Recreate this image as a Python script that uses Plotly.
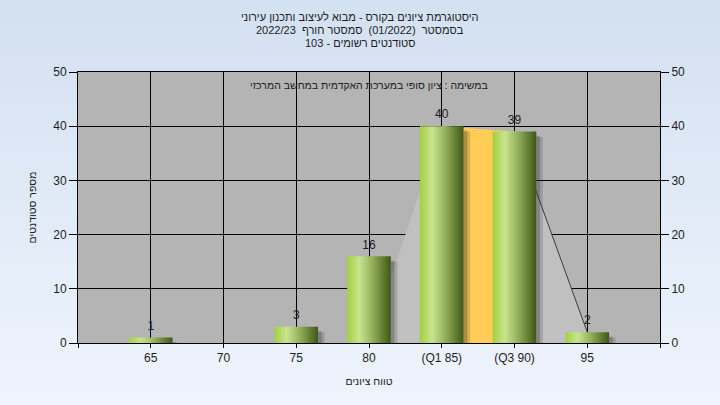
import plotly.graph_objects as go

# ---------------- data ----------------
categories = [65, 70, 75, 80, 85, 90, 95]
tick_labels = ["65", "70", "75", "80", "(Q1 85)", "(Q3 90)", "95"]
counts = [1, 0, 3, 16, 40, 39, 2]

quartile_x = [85, 90]          # Q1 .. Q3 band
quartile_y = [40, 39]

poly_x = [80, 85, 90, 95]      # light frequency-polygon area
poly_y = [0, 40, 39, 2]

title_lines = [
    "היסטוגרמת ציונים בקורס - מבוא לעיצוב ותכנון עירוני",
    "בסמסטר  (01/2022)  סמסטר חורף  2022/23",
    "סטודנטים רשומים - 103",
]
subtitle = "במשימה : ציון סופי במערכת האקדמית במחשב המרכזי"
x_title = "טווח ציונים"
y_title = "מספר סטודנטים"

x_range = [60, 100]
y_range = [0, 50]
bar_width = 3.0

FONT = "Arial, 'Liberation Sans', 'DejaVu Sans', sans-serif"
TXT = "#1c1c24"

fig = go.Figure()

# light area (frequency polygon)
fig.add_trace(go.Scatter(
    x=poly_x + [poly_x[-1]], y=poly_y + [0],
    fill="toself", fillcolor="#c0c0c0", mode="none",
    hoverinfo="skip", showlegend=False))
# dark edge line on the falling side
fig.add_trace(go.Scatter(
    x=poly_x[2:], y=poly_y[2:], mode="lines",
    line=dict(color="#3c3c3c", width=1),
    hoverinfo="skip", showlegend=False))

# orange quartile band
fig.add_trace(go.Scatter(
    x=[quartile_x[0], quartile_x[0], quartile_x[1], quartile_x[1]],
    y=[0, quartile_y[0], quartile_y[1], 0],
    fill="toself", fillcolor="#ffcc55", mode="none",
    hoverinfo="skip", showlegend=False))

half = bar_width / 2.0
# bar shadows (two soft layers)
for c, v in zip(categories, counts):
    if v <= 0:
        continue
    fig.add_trace(go.Scatter(
        x=[c + half, c + half, c + half + 0.45, c + half + 0.45],
        y=[-1.2, max(v - 1.0, 0.1), max(v - 1.0, 0.1), -1.2],
        fill="toself", fillcolor="rgba(40,40,40,0.18)", mode="none",
        hoverinfo="skip", showlegend=False))
    fig.add_trace(go.Scatter(
        x=[c + half, c + half, c + half + 0.25, c + half + 0.25],
        y=[-1, max(v - 0.8, 0.1), max(v - 0.8, 0.1), -1],
        fill="toself", fillcolor="rgba(40,40,40,0.25)", mode="none",
        hoverinfo="skip", showlegend=False))

# gradient bars
for c, v in zip(categories, counts):
    if v <= 0:
        continue
    fig.add_trace(go.Scatter(
        x=[c - half, c - half, c + half, c + half],
        y=[0, v, v, 0],
        fill="toself", mode="none",
        fillgradient=dict(
            type="horizontal",
            colorscale=[[0, "#a2d040"], [0.28, "#c8e48e"], [0.55, "#98b660"],
                        [0.85, "#5c772c"], [1, "#3e561c"]]),
        hoverinfo="skip", showlegend=False))

# value labels
lab_x = [c for c, v in zip(categories, counts) if v > 0]
lab_y = [v for v in counts if v > 0]
fig.add_trace(go.Scatter(
    x=lab_x, y=lab_y, mode="markers+text", text=[str(v) for v in lab_y],
    marker=dict(size=6, opacity=0),
    textposition="top center",
    textfont=dict(family=FONT, size=12, color=TXT),
    hoverinfo="skip", showlegend=False, cliponaxis=False))

# invisible trace for right axis
fig.add_trace(go.Scatter(x=[x_range[0]], y=[0], yaxis="y2", mode="markers",
                         marker=dict(opacity=0), hoverinfo="skip", showlegend=False))

# background gradient strips (paper)
top_rgb = (211, 224, 241)
bot_rgb = (239, 245, 253)
n = 27
shapes = []
for i in range(n):
    t = i / (n - 1)
    col = tuple(int(round(top_rgb[k] + (bot_rgb[k] - top_rgb[k]) * t)) for k in range(3))
    shapes.append(dict(type="rect", xref="paper", yref="paper",
                       x0=-0.2, x1=1.2,
                       y0=1.3 - (i + 1) * (1.6 / n) - 0.002, y1=1.3 - i * (1.6 / n),
                       fillcolor="rgb(%d,%d,%d)" % col, line=dict(width=0),
                       layer="below"))
# plot area gray
shapes.append(dict(type="rect", xref="x domain", yref="y domain",
                   x0=0, x1=1, y0=0, y1=1, fillcolor="#b4b4b4",
                   line=dict(width=0), layer="below"))

tickvals = [x_range[0]] + categories + [x_range[1]]
ticktext = [""] + tick_labels + [""]

annotations = []
for i, line in enumerate(title_lines):
    annotations.append(dict(text=line, xref="paper", yref="paper",
                            x=(360 - 78) / 582, y=1, yshift=55 - 13 * i,
                            xanchor="center", yanchor="middle",
                            showarrow=False, font=dict(size=11, color=TXT)))
annotations.append(dict(text=subtitle, xref="paper", yref="y", x=0.5, y=47.6,
                        xanchor="center", yanchor="middle", showarrow=False,
                        font=dict(size=10.5, color=TXT)))

fig.update_layout(
    width=720, height=405,
    margin=dict(l=78, r=60, t=72, b=62),
    paper_bgcolor="#e2ebf7",
    plot_bgcolor="rgba(0,0,0,0)",
    font=dict(family=FONT, size=12, color=TXT),
    shapes=shapes,
    showlegend=False,
    xaxis=dict(range=x_range, tickmode="array", tickvals=tickvals, ticktext=ticktext,
               showgrid=True, gridcolor="#000000", gridwidth=1,
               showline=True, linecolor="#000000", linewidth=1, mirror=True,
               ticks="outside", ticklen=4, tickcolor="#000000",
               tickfont=dict(size=12, color=TXT), zeroline=False,
               title=dict(text=x_title, font=dict(size=10.5, color=TXT), standoff=13),
               automargin=False, fixedrange=True),
    yaxis=dict(range=y_range, tickmode="linear", tick0=0, dtick=10,
               showgrid=True, gridcolor="#000000", gridwidth=1,
               showline=True, linecolor="#000000", linewidth=1,
               ticks="outside", ticklen=8, tickcolor="#000000",
               tickfont=dict(size=12, color=TXT), zeroline=False,
               title=dict(text=y_title, font=dict(size=10.5, color=TXT), standoff=14),
               automargin=False, fixedrange=True),
    yaxis2=dict(range=y_range, overlaying="y", side="right", tickmode="linear",
                tick0=0, dtick=10, showgrid=False, showline=True,
                linecolor="#000000", linewidth=1, ticks="outside", ticklen=8,
                tickcolor="#000000", tickfont=dict(size=12, color=TXT),
                zeroline=False, automargin=False, fixedrange=True),
    annotations=annotations,
)

fig.write_html("out.html", config={"displayModeBar": False},
               post_script="document.body.style.margin='0';document.body.style.overflow='hidden';")
